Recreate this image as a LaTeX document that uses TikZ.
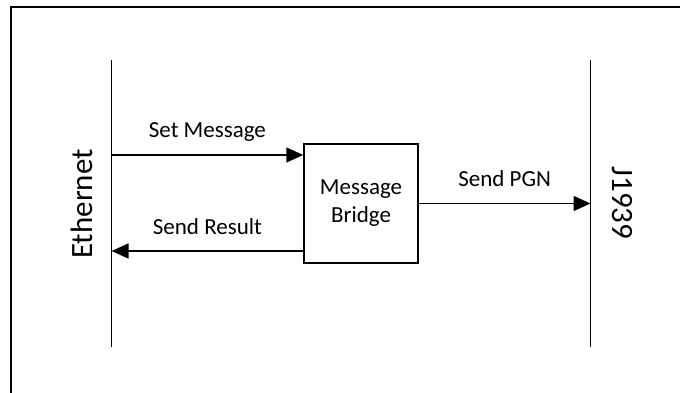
\documentclass[tikz,border=0pt]{standalone}
\usepackage{fontspec}
\setmainfont{Carlito}
\usetikzlibrary{positioning,arrows.meta}

\begin{document}
\begin{tikzpicture}[x=1pt,y=-1pt,line width=1.5pt,
  every node/.style={inner sep=0pt,font=\fontsize{23}{28}\selectfont},
  bus/.style={font=\fontsize{31}{36}\selectfont},
  bridgebox/.style={draw,minimum width=114pt,minimum height=119pt,align=center},
  msg/.style={-{Triangle[length=17pt,width=15pt]}},
  msglabel/.style={midway,anchor=base,yshift=17pt}]
\useasboundingbox (0,0) rectangle (680,393);
\clip (0,0) rectangle (680,393);
% outer frame
\draw[line width=2.3pt] (11,7) rectangle (700,420);
% the two buses
\coordinate (eth top) at (111.5,60);
\coordinate (eth bot) at (111.5,347);
\coordinate (j top) at (590.5,60);
\coordinate (j bot) at (590.5,347);
\draw (eth top) -- (eth bot);
\draw (j top) -- (j bot);
\node[bus,rotate=90] (ethname) at (81.5,204) {Ethernet};
\node[bus,rotate=-90] (jname) at (622,203) {J1939};
% bridge
\node[bridgebox] (bridge) at (361,203.5) {Message\\Bridge};
% messages
\coordinate (set from) at (111.5,155);
\coordinate (res to) at (111.5,251);
\draw[msg] (set from) -- (set from -| bridge.west)
  node[msglabel] (setlbl) {Set Message};
\draw[msg] (res to -| bridge.west) -- (res to)
  node[msglabel] (reslbl) {Send Result};
\draw[msg] (bridge.east) -- (bridge.east -| j top)
  node[msglabel] (pgnlbl) {Send PGN};
\end{tikzpicture}
\end{document}
